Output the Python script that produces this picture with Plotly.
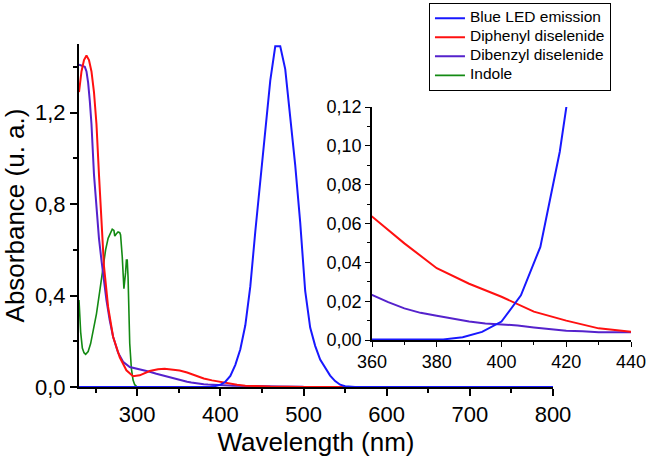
import plotly.graph_objects as go

# Blue LED emission
wl_led = [230, 376, 382, 388, 394, 400, 406, 412, 418, 424, 430, 436, 442, 448, 454, 460, 466,
          472, 478, 484, 490, 496, 502, 508, 514, 520, 526, 532, 538, 544, 550, 556, 562, 800]
led = [0, 0, 0.0003, 0.0014, 0.0042, 0.0095, 0.023, 0.048, 0.097, 0.165, 0.27, 0.44, 0.68, 0.9,
       1.12, 1.34, 1.49, 1.49, 1.39, 1.19, 0.97, 0.72, 0.42, 0.26, 0.18, 0.12, 0.083, 0.05, 0.026,
       0.01, 0.003, 0.001, 0, 0]

# Diphenyl diselenide
wl_ph = [230, 233, 236, 239, 242, 245, 248, 251, 254, 257, 260, 265, 271, 279, 287, 295, 303, 315,
         325, 333, 343, 351, 360, 370, 380, 390, 400, 410, 420, 430, 440, 460, 500, 550]
ph = [1.29, 1.38, 1.43, 1.45, 1.43, 1.38, 1.29, 1.15, 0.93, 0.72, 0.53, 0.35, 0.22, 0.13, 0.073,
      0.047, 0.051, 0.07, 0.078, 0.08, 0.077, 0.072, 0.0636, 0.0498, 0.037, 0.029, 0.0223, 0.0146,
      0.010, 0.006, 0.0043, 0.002, 0.0005, 0]

# Dibenzyl diselenide
wl_bz = [230, 234, 237, 239, 241, 243, 245, 248, 251, 254, 257, 260, 263, 267, 271, 277, 283, 291,
         299, 307, 315, 323, 331, 339, 347, 353, 360, 365, 370, 375, 380, 385, 390, 395, 400, 405,
         410, 415, 420, 425, 430, 435, 440, 470, 500]
bz = [1.41, 1.405, 1.40, 1.38, 1.33, 1.25, 1.15, 0.93, 0.77, 0.65, 0.555, 0.46, 0.38, 0.29, 0.22,
      0.15, 0.11, 0.0875, 0.081, 0.076, 0.067, 0.058, 0.05, 0.042, 0.033, 0.027, 0.0232, 0.0195,
      0.0163, 0.014, 0.0125, 0.011, 0.0095, 0.0085, 0.008, 0.0075, 0.0065, 0.0055, 0.0048, 0.0045,
      0.004, 0.004, 0.004, 0.002, 0.001]

# Indole
wl_in = [230, 232, 234, 236, 238, 241, 244, 247, 251, 255, 259, 262, 265, 268, 270, 272, 273, 275,
         277, 279, 280, 282, 284, 286, 287, 288, 289, 291, 293, 295, 297, 300]
ind = [0.38, 0.24, 0.17, 0.15, 0.143, 0.155, 0.19, 0.24, 0.32, 0.42, 0.53, 0.6, 0.65, 0.67, 0.69,
       0.685, 0.66, 0.67, 0.678, 0.675, 0.665, 0.57, 0.43, 0.5, 0.555, 0.555, 0.48, 0.19, 0.08,
       0.03, 0.01, 0]

series = [
    ("Indole", wl_in, ind, "#138a13", 1.6),
    ("Dibenzyl diselenide", wl_bz, bz, "#5522cc", 2),
    ("Diphenyl diselenide", wl_ph, ph, "#ff1010", 2),
    ("Blue LED emission", wl_led, led, "#1818ff", 2),
]

font = "Arial, Liberation Sans, sans-serif"
fig = go.Figure()
for name, x, y, col, w in series:
    # bigger text inside a small legend font keeps the rows tight
    fig.add_trace(go.Scatter(x=x, y=y, mode="lines",
                             name='<span style="font-size:15.5px">%s</span>' % name,
                             line=dict(color=col, width=w)))
for name, x, y, col, w in series:
    fig.add_trace(go.Scatter(x=x, y=y, mode="lines", name=name, showlegend=False,
                             line=dict(color=col, width=w), xaxis="x2", yaxis="y2"))

axis_common = dict(showline=True, linecolor="black", ticks="outside", tickcolor="black",
                   showgrid=False, zeroline=False, automargin=False)

fig.update_layout(
    width=648, height=457,
    margin=dict(l=79, r=17, t=44, b=70, autoexpand=False),
    paper_bgcolor="white", plot_bgcolor="white",
    separators=",.",
    font=dict(family=font, color="black"),
    showlegend=True,
    legend=dict(x=0.634, y=1.12, xanchor="left", yanchor="top", traceorder="reversed",
                bordercolor="black", borderwidth=1, bgcolor="white",
                font=dict(size=9.5, family=font), tracegroupgap=0),
    xaxis=dict(domain=[0, 0.8587], range=[230, 800], dtick=100, tick0=0,
               linewidth=2, ticklen=7, tickwidth=1.5, tickfont=dict(size=22),
               minor=dict(dtick=50, tick0=0, ticklen=4, tickcolor="black", ticks="outside"),
               title=dict(text="Wavelength (nm)", font=dict(size=26), standoff=6),
               **axis_common),
    yaxis=dict(domain=[0, 1], range=[0, 1.5], dtick=0.4, tick0=0, tickformat=".1f",
               linewidth=2, ticklen=7, tickwidth=1.5, tickfont=dict(size=22),
               minor=dict(dtick=0.2, tick0=0, ticklen=4, tickcolor="black", ticks="outside"),
               title=dict(text="Absorbance (u. a.)", font=dict(size=26), standoff=4),
               **axis_common),
    xaxis2=dict(domain=[0.5308, 1], range=[360, 440], dtick=20, tick0=0, anchor="y2",
                linewidth=1.5, ticklen=5, tickwidth=1, tickfont=dict(size=18),
                minor=dict(dtick=10, tick0=0, ticklen=3, tickcolor="black", ticks="outside"),
                **axis_common),
    yaxis2=dict(domain=[0.137, 0.816], range=[0, 0.12], dtick=0.02, tick0=0, anchor="x2",
                tickformat=".2f",
                linewidth=1.5, ticklen=5, tickwidth=1, tickfont=dict(size=18),
                minor=dict(dtick=0.01, tick0=0, ticklen=3, tickcolor="black", ticks="outside"),
                **axis_common),
)

# drop the browser's default 8px body margin so the figure sits at the window corner
fig.write_html("out.html", config={"displayModeBar": False},
               post_script="document.body.style.margin='0';")
